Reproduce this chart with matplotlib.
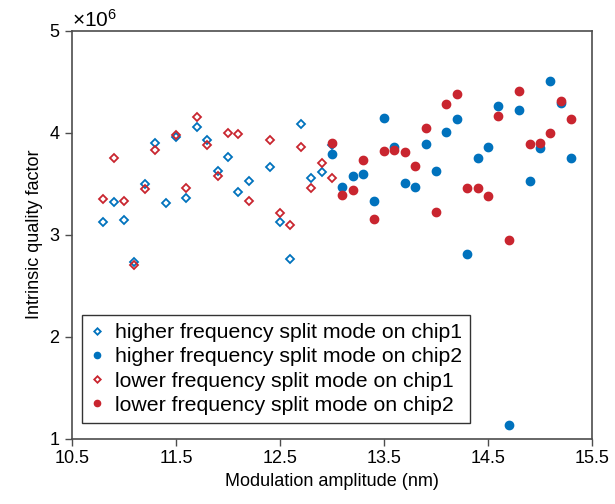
import matplotlib
matplotlib.use("Agg")
import matplotlib.pyplot as plt
from matplotlib.ticker import ScalarFormatter

plt.rcParams['font.family'] = ['Liberation Sans', 'DejaVu Sans']
plt.rcParams['mathtext.fontset'] = 'custom'
plt.rcParams['mathtext.rm'] = 'Liberation Sans'

x_chip1 = [10.8, 10.9, 11.0, 11.1, 11.2, 11.3, 11.4, 11.5, 11.6, 11.7, 11.8, 11.9,
           12.0, 12.1, 12.2, 12.4, 12.5, 12.6, 12.7, 12.8, 12.9, 13.0]
high_chip1 = [3.12, 3.316, 3.147, 2.733, 3.499, 3.902, 3.306, 3.961, 3.359, 4.053, 3.932, 3.626,
              3.760, 3.417, 3.528, 3.662, 3.127, 2.762, 4.082, 3.560, 3.616, 3.880]
x_low_chip1 = [10.8, 10.9, 11.0, 11.1, 11.2, 11.3, 11.5, 11.6, 11.7, 11.8, 11.9,
               12.0, 12.1, 12.2, 12.4, 12.5, 12.6, 12.7, 12.8, 12.9, 13.0]
low_chip1 = [3.345, 3.753, 3.329, 2.700, 3.450, 3.828, 3.975, 3.462, 4.153, 3.880, 3.580,
             4.0, 3.984, 3.335, 3.926, 3.215, 3.098, 3.863, 3.453, 3.707, 3.554]

x_chip2 = [13.0, 13.1, 13.2, 13.3, 13.4, 13.5, 13.6, 13.7, 13.8, 13.9, 14.0, 14.1,
           14.2, 14.3, 14.4, 14.5, 14.6, 14.7, 14.8, 14.9, 15.0, 15.1, 15.2, 15.3]
high_chip2 = [3.795, 3.466, 3.577, 3.593, 3.329, 4.144, 3.860, 3.508, 3.466, 3.887, 3.623, 4.007,
              4.134, 2.807, 3.756, 3.863, 4.258, 1.136, 4.222, 3.525, 3.853, 4.505, 4.290, 3.753]
low_chip2 = [3.902, 3.388, 3.437, 3.730, 3.150, 3.824, 3.831, 3.808, 3.674, 4.046, 3.218, 4.283,
             4.375, 3.459, 3.459, 3.378, 4.166, 2.948, 4.411, 3.892, 3.902, 3.997, 4.307, 4.131]

labels = ["higher frequency split mode on chip1", "higher frequency split mode on chip2",
          "lower frequency split mode on chip1", "lower frequency split mode on chip2"]

blue = '#0072BD'
red = '#C9252F'
scale = 1e6

fig = plt.figure(figsize=(6.15, 5.04), dpi=100)
ax = fig.add_axes([0.1171, 0.1296, 0.8455, 0.8095])

ax.plot(x_chip1, [v * scale for v in high_chip1], 'D', ms=4.4, mfc='white', mec=blue, mew=1.3,
        linestyle='none', label=labels[0])
ax.plot(x_chip2, [v * scale for v in high_chip2], 'o', ms=6, mfc=blue, mec=blue,
        linestyle='none', label=labels[1])
ax.plot(x_low_chip1, [v * scale for v in low_chip1], 'D', ms=4.4, mfc='none', mec=red, mew=1.3,
        linestyle='none', label=labels[2])
ax.plot(x_chip2, [v * scale for v in low_chip2], 'o', ms=6, mfc=red, mec=red,
        linestyle='none', label=labels[3])

ax.set_xlim(10.5, 15.5)
ax.set_ylim(1e6, 5e6)
ax.set_xticks([10.5, 11.5, 12.5, 13.5, 14.5, 15.5])
ax.set_xticklabels(['10.5', '11.5', '12.5', '13.5', '14.5', '15.5'])
ax.set_yticks([1e6, 2e6, 3e6, 4e6, 5e6])
fmt = ScalarFormatter(useMathText=True)
fmt.set_powerlimits((0, 0))
ax.yaxis.set_major_formatter(fmt)
ax.yaxis.get_offset_text().set_fontsize(15)

for s in ax.spines.values():
    s.set_color('#4d4d4d')
    s.set_linewidth(1.2)
ax.tick_params(direction='out', length=5, width=1.0, color='#4d4d4d', labelsize=13, labelcolor='black')

ax.set_xlabel('Modulation amplitude (nm)', fontsize=13)
ax.set_ylabel('Intrinsic quality factor', fontsize=13)

leg = ax.legend(loc='lower left', bbox_to_anchor=(0.019, 0.038), borderaxespad=0,
                fontsize=15.3, frameon=True, fancybox=False, edgecolor='black',
                handlelength=0.6, handletextpad=0.55, borderpad=0.4, labelspacing=0.24,
                markerscale=0.75)
leg.get_frame().set_linewidth(1.0)

fig.savefig('out.png', dpi=100)
